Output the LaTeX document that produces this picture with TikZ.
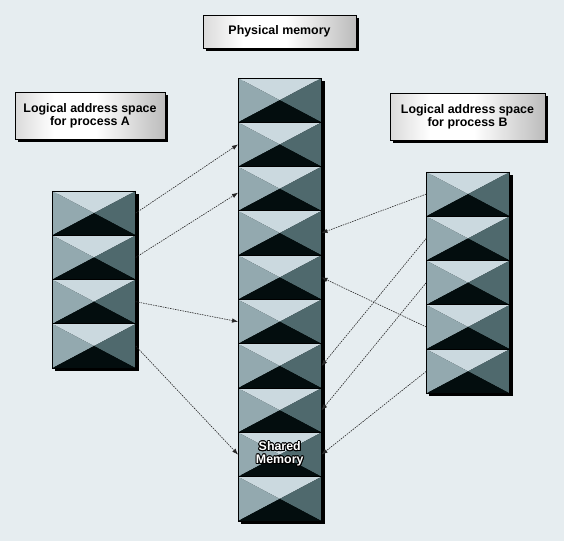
\documentclass[tikz,border=0pt]{standalone}
\usepackage{fontspec}
\setmainfont{Liberation Sans}
\usepackage{contour}
\usetikzlibrary{positioning,arrows.meta,shadows,backgrounds}
\definecolor{paper}{RGB}{230,237,240}
\definecolor{pagetop}{RGB}{203,217,223}
\definecolor{pageleft}{RGB}{147,169,175}
\definecolor{pageright}{RGB}{79,105,109}
\definecolor{pagebottom}{RGB}{3,13,14}
\pgfdeclarehorizontalshading{titleshade}{100bp}{color(0bp)=(black!42); color(38bp)=(white); color(52bp)=(white); color(100bp)=(black!55)}
\contourlength{0.9pt}
\begin{document}
\begin{tikzpicture}
		[x=1pt,y=-1pt,
		page/.style={rectangle,draw=black,line width=0.9pt,minimum width=83.5pt,minimum height=44.3pt,inner sep=0pt,outer sep=0pt,
			path picture={
				\fill[pagetop] (path picture bounding box.north west) -- (path picture bounding box.north east) -- (path picture bounding box.center) -- cycle;
				\fill[pageleft] (path picture bounding box.north west) -- (path picture bounding box.south west) -- (path picture bounding box.center) -- cycle;
				\fill[pageright] (path picture bounding box.north east) -- (path picture bounding box.south east) -- (path picture bounding box.center) -- cycle;
				\fill[pagebottom] (path picture bounding box.south west) -- (path picture bounding box.south east) -- (path picture bounding box.center) -- cycle;
			}},
		title/.style={draw=black,line width=0.6pt,shading=titleshade,
			drop shadow={fill=black,opacity=1,shadow xshift=3pt,shadow yshift=-3pt},
			font=\fontsize{12.4}{13}\selectfont\bfseries,align=center,inner sep=0pt},
		map/.style={-{Latex[length=6pt,width=4.5pt]},dash pattern=on 1.5pt off 1pt,line width=0.6pt,black!85}]
		\useasboundingbox (0,0) rectangle (564,541);
		\node[title,minimum width=153pt,minimum height=33pt] (phys) at (279.5,31.5) {Physical memory};
		\node[title,minimum width=150pt,minimum height=47pt] (spaceA) at (90,115.5) {Logical address space\\for process A};
		\node[title,minimum width=155pt,minimum height=47pt] (spaceB) at (467.5,116.5) {Logical address space\\for process B};
		\node[page] (p1) at (279.75,100.15) {};
		\node[page,below=0pt of p1] (p2) {};
		\node[page,below=0pt of p2] (p3) {};
		\node[page,below=0pt of p3] (p4) {};
		\node[page,below=0pt of p4] (p5) {};
		\node[page,below=0pt of p5] (p6) {};
		\node[page,below=0pt of p6] (p7) {};
		\node[page,below=0pt of p7] (p8) {};
		\node[page,below=0pt of p8] (p9) {};
		\node[page,below=0pt of p9] (p10) {};
		\node[page] (a1) at (94,213.1) {};
		\node[page,below=0pt of a1] (a2) {};
		\node[page,below=0pt of a2] (a3) {};
		\node[page,below=0pt of a3] (a4) {};
		\node[page] (b1) at (468,194.1) {};
		\node[page,below=0pt of b1] (b2) {};
		\node[page,below=0pt of b2] (b3) {};
		\node[page,below=0pt of b3] (b4) {};
		\node[page,below=0pt of b4] (b5) {};
		\node[font=\fontsize{12.4}{13}\selectfont\bfseries,text=white,align=center] (shared) at (p9) {\contour{black}{Shared}\\\contour{black}{Memory}};
		\draw[map] (a1.east) -- (p2.west);
		\draw[map] (a2.east) -- ([yshift=-4pt]p3.west);
		\draw[map] (a3.east) -- (p6.west);
		\draw[map] (a4.east) -- (p9.west);
		\draw[map] (b1.west) -- (p4.east);
		\draw[map] (b2.west) -- (p7.east);
		\draw[map] (b3.west) -- (p8.east);
		\draw[map] (b4.west) -- (p5.east);
		\draw[map] (b5.west) -- (p9.east);
		\begin{scope}[on background layer]
			\fill[paper] (0,0) rectangle (564,541);
			\fill[black] ([xshift=3pt,yshift=-3pt]p1.north west) rectangle ([xshift=3pt,yshift=-3pt]p10.south east);
			\fill[black] ([xshift=3pt,yshift=-3pt]a1.north west) rectangle ([xshift=3pt,yshift=-3pt]a4.south east);
			\fill[black] ([xshift=3pt,yshift=-3pt]b1.north west) rectangle ([xshift=3pt,yshift=-3pt]b5.south east);
		\end{scope}
	\end{tikzpicture}
\end{document}
